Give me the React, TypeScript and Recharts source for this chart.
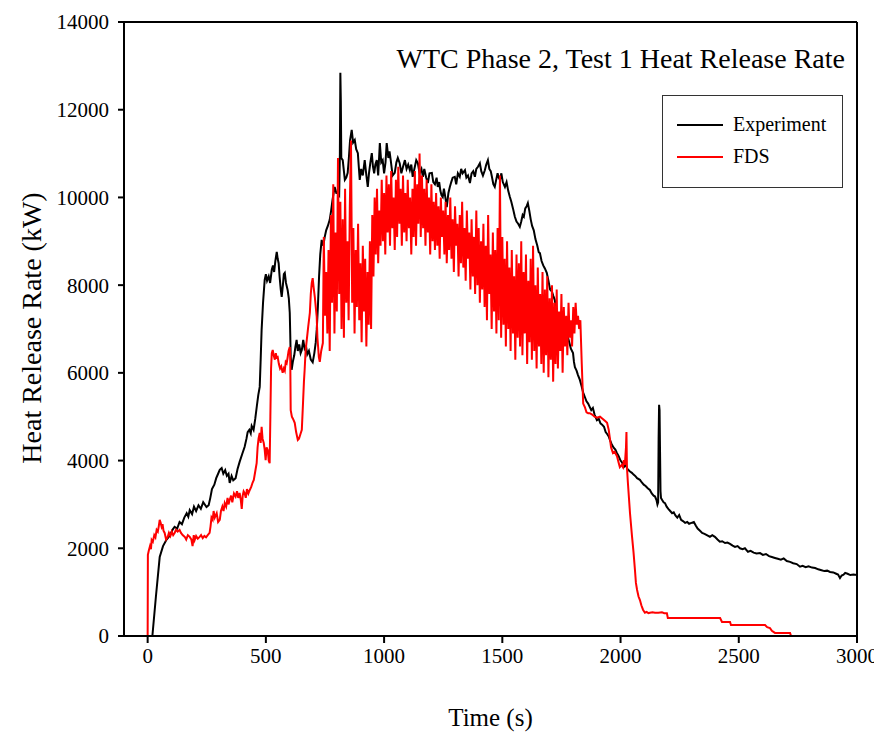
import { CartesianGrid, Line, LineChart, ReferenceLine, XAxis, YAxis } from 'recharts'

// [time (s), heat release rate (kW)]
const experimentPoints: [number, number][] = [
  [0, 0], [20, 0], [35, 900], [51, 1800], [65, 2050], [80, 2200], [95, 2300], [105, 2420], [114, 2490], [125, 2450],
  [135, 2600], [145, 2550], [155, 2700], [165, 2800], [172, 2720], [178, 2870], [188, 2780], [196, 2950], [205, 2850], [215, 2980],
  [225, 2900], [235, 3050], [249, 2940], [258, 2980], [265, 3150], [272, 3350], [282, 3450], [290, 3600], [298, 3700], [305, 3790],
  [313, 3830], [320, 3700], [328, 3780], [335, 3650], [342, 3700], [347, 3490], [355, 3650], [362, 3550], [372, 3600], [380, 3800],
  [389, 3970], [400, 4150], [410, 4310], [418, 4500], [423, 4650], [430, 4700], [436, 4620], [440, 4790], [448, 4700], [455, 4950],
  [462, 5250], [468, 5500], [474, 5680], [478, 6300], [482, 6980], [488, 7600], [495, 8120], [500, 8250], [505, 8100], [512, 8200],
  [518, 8050], [525, 8350], [530, 8450], [535, 8300], [540, 8550], [546, 8760], [550, 8600], [554, 8500], [558, 8200], [563, 7900],
  [567, 7730], [572, 8000], [576, 8250], [580, 8280], [585, 8050], [592, 7890], [597, 7700], [601, 7370], [603, 6900], [605, 6360],
  [609, 6070], [614, 6250], [620, 6400], [625, 6600], [630, 6750], [635, 6500], [641, 6650], [647, 6450], [652, 6520], [658, 6750],
  [664, 6550], [670, 6600], [675, 6420], [682, 6500], [690, 6300], [698, 6240], [705, 6450], [711, 6700], [715, 6980], [720, 7500],
  [725, 8200], [730, 8700], [736, 9030], [743, 8900], [749, 9100], [755, 9250], [762, 9350], [770, 9490], [776, 9700], [782, 9950],
  [791, 10240], [798, 10100], [804, 10100], [810, 10050], [813, 11000], [815, 12840], [817, 12200], [819, 10900], [825, 10850], [830, 10600],
  [834, 10400], [840, 10450], [846, 10560], [851, 10900], [856, 11300], [863, 11540], [869, 11250], [876, 11310], [882, 11100], [889, 11010],
  [893, 10700], [897, 10400], [903, 10650], [910, 10500], [918, 10850], [925, 10500], [931, 10240], [936, 10550], [942, 10800], [948, 11010],
  [953, 10700], [958, 10550], [963, 10750], [969, 10850], [975, 10500], [982, 11240], [988, 10800], [994, 10850], [1000, 10550], [1006, 10800],
  [1011, 11240], [1018, 10900], [1023, 11050], [1028, 10850], [1036, 10500], [1045, 10560], [1052, 10800], [1058, 10900], [1066, 10780], [1073, 10550],
  [1080, 10700], [1088, 10850], [1095, 10650], [1102, 10750], [1109, 10620], [1115, 10750], [1121, 10470], [1128, 10650], [1136, 10850], [1143, 10780],
  [1150, 10550], [1158, 10650], [1164, 10470], [1170, 10650], [1178, 10450], [1185, 10330], [1192, 10550], [1202, 10560], [1208, 10350], [1215, 10300],
  [1222, 10450], [1227, 10240], [1233, 10350], [1238, 10150], [1243, 10050], [1248, 10010], [1253, 10200], [1259, 10000], [1265, 9780], [1272, 10100],
  [1278, 10240], [1284, 10350], [1290, 10450], [1299, 10470], [1305, 10300], [1312, 10550], [1320, 10470], [1326, 10650], [1332, 10550], [1342, 10620],
  [1348, 10450], [1355, 10500], [1363, 10330], [1370, 10550], [1377, 10600], [1384, 10470], [1390, 10650], [1397, 10700], [1405, 10780], [1411, 10600],
  [1418, 10500], [1426, 10620], [1432, 10750], [1439, 10850], [1445, 10650], [1451, 10600], [1456, 10470], [1462, 10300], [1468, 10240], [1474, 10400],
  [1480, 10550], [1485, 10450], [1490, 10400], [1496, 10550], [1502, 10350], [1511, 10240], [1518, 10350], [1525, 10150], [1532, 10010], [1538, 9900],
  [1545, 9750], [1553, 9560], [1560, 9450], [1567, 9400], [1574, 9330], [1580, 9450], [1586, 9600], [1591, 9560], [1597, 9750], [1603, 9800],
  [1608, 9870], [1614, 9700], [1620, 9500], [1626, 9350], [1633, 9250], [1640, 9050], [1648, 8900], [1654, 8750], [1659, 8730], [1666, 8550],
  [1673, 8450], [1680, 8380], [1688, 8280], [1695, 8100], [1702, 7900], [1710, 7850], [1716, 7750], [1722, 7660], [1726, 7500], [1731, 7370],
  [1738, 7250], [1745, 7100], [1752, 7050], [1760, 6950], [1768, 6900], [1777, 6820], [1783, 6700], [1790, 6550], [1799, 6450], [1803, 6250],
  [1807, 6130], [1814, 6050], [1820, 5950], [1828, 5840], [1835, 5700], [1842, 5550], [1849, 5450], [1856, 5350], [1863, 5300], [1870, 5220],
  [1876, 5150], [1883, 5200], [1890, 5050], [1900, 4920], [1908, 4950], [1915, 4850], [1922, 4820], [1930, 4770], [1937, 4650], [1944, 4600],
  [1950, 4550], [1955, 4470], [1962, 4380], [1970, 4300], [1978, 4250], [1985, 4170], [1992, 4100], [2000, 4000], [2007, 3950], [2014, 3850],
  [2022, 3900], [2030, 3800], [2040, 3750], [2048, 3720], [2055, 3680], [2062, 3650], [2070, 3600], [2082, 3560], [2090, 3500], [2098, 3450],
  [2106, 3420], [2115, 3370], [2124, 3330], [2132, 3250], [2140, 3200], [2146, 3180], [2152, 3100], [2156, 3000], [2159, 3050], [2161, 4500],
  [2163, 5270], [2165, 5150], [2167, 4200], [2169, 3300], [2171, 3150], [2176, 3100], [2182, 3050], [2188, 3030], [2195, 2950], [2202, 2900],
  [2210, 2850], [2218, 2800], [2225, 2820], [2232, 2750], [2240, 2700], [2248, 2760], [2256, 2650], [2264, 2620], [2273, 2580], [2282, 2600],
  [2290, 2560], [2300, 2580], [2310, 2600], [2318, 2520], [2326, 2450], [2336, 2400], [2345, 2350], [2355, 2330], [2365, 2300], [2378, 2260],
  [2388, 2300], [2399, 2260], [2410, 2200], [2420, 2150], [2430, 2160], [2442, 2120], [2452, 2130], [2463, 2100], [2474, 2060], [2484, 2030],
  [2495, 2050], [2505, 2000], [2516, 1980], [2526, 2000], [2539, 1920], [2550, 1940], [2563, 1900], [2575, 1880], [2590, 1890], [2602, 1850],
  [2615, 1870], [2628, 1820], [2640, 1800], [2653, 1780], [2665, 1760], [2678, 1740], [2690, 1770], [2703, 1710], [2717, 1690], [2730, 1660],
  [2745, 1640], [2759, 1580], [2770, 1600], [2783, 1570], [2795, 1590], [2810, 1560], [2823, 1550], [2836, 1520], [2850, 1500], [2862, 1480],
  [2874, 1490], [2886, 1460], [2900, 1450], [2912, 1420], [2920, 1400], [2928, 1320], [2935, 1380], [2943, 1400], [2950, 1440], [2960, 1420],
  [2972, 1390], [2985, 1400], [3000, 1390],
]

const fdsPoints: [number, number][] = [
  [0, 0], [1, 1850], [5, 1950], [10, 2050], [14, 1980], [17, 2190], [22, 2150], [28, 2300], [33, 2250], [38, 2420],
  [43, 2380], [47, 2500], [51, 2650], [55, 2580], [59, 2490], [63, 2550], [67, 2400], [72, 2350], [78, 2200], [85, 2260],
  [90, 2350], [96, 2280], [102, 2380], [108, 2300], [114, 2350], [120, 2420], [127, 2380], [135, 2420], [141, 2350], [148, 2300],
  [157, 2260], [163, 2200], [170, 2300], [178, 2260], [185, 2200], [190, 2050], [195, 2300], [199, 2190], [205, 2280], [212, 2220],
  [220, 2260], [226, 2300], [233, 2230], [240, 2280], [247, 2250], [254, 2300], [262, 2350], [266, 2500], [270, 2700], [275, 2650],
  [279, 2850], [284, 2700], [292, 2800], [298, 2600], [305, 2650], [310, 2850], [316, 2950], [321, 2850], [326, 3030], [332, 2950],
  [338, 3150], [342, 3000], [347, 3100], [353, 3200], [358, 3050], [365, 3250], [372, 3180], [378, 3300], [383, 3150], [389, 3260],
  [394, 3100], [398, 2900], [402, 3200], [406, 3300], [410, 3260], [415, 3150], [420, 3350], [426, 3250], [432, 3330], [438, 3400],
  [444, 3500], [449, 3560], [455, 3750], [461, 3940], [465, 4300], [469, 4500], [474, 4630], [478, 4400], [482, 4770], [486, 4500],
  [491, 4400], [495, 4250], [499, 4010], [503, 4300], [508, 4240], [512, 4000], [516, 3940], [519, 5000], [522, 6100], [525, 6450],
  [529, 6520], [533, 6400], [538, 6300], [542, 6450], [546, 6350], [550, 6360], [555, 6200], [560, 6100], [565, 6150], [571, 6000],
  [576, 6100], [580, 6050], [584, 6250], [588, 6220], [592, 6350], [596, 6500], [601, 6590], [603, 6400], [605, 5150], [610, 5000],
  [615, 4950], [622, 4860], [628, 4650], [635, 4470], [640, 4500], [646, 4600], [652, 4700], [657, 5300], [661, 5800], [664, 6070],
  [668, 6500], [673, 6750], [679, 7050], [686, 7370], [690, 7800], [694, 8050], [698, 8160], [702, 7950], [707, 7730], [711, 7500],
  [715, 7280], [718, 6800], [721, 6590], [724, 6360], [728, 6250], [734, 6500], [741, 6680],
  [745, 9100], [750, 7300], [755, 8300], [760, 6900], [765, 8800],
  [770, 6500], [775, 9600], [780, 7600], [785, 10300], [790, 6900], [795, 9200], [800, 7400], [805, 10900], [810, 7800], [815, 9900],
  [820, 7000], [825, 9500], [830, 6800], [835, 10200], [840, 7600], [845, 9000], [850, 7200], [855, 9800], [860, 11300], [865, 7600],
  [870, 9300], [875, 6900], [880, 8800], [885, 7500], [890, 9400], [895, 7200], [900, 8500], [905, 6700], [910, 8900], [915, 7400],
  [920, 8600], [925, 6600], [930, 8300], [935, 7100], [940, 9000], [945, 7000], [950, 9600], [955, 8200], [960, 10000], [965, 8700],
  [970, 10200], [975, 8500], [980, 9700], [985, 8900], [990, 10400], [995, 9000], [1000, 10100], [1005, 8700], [1010, 10500], [1015, 9200],
  [1020, 10300], [1025, 8900], [1030, 10600], [1035, 9300], [1040, 10000], [1045, 8800], [1050, 10400], [1055, 9100], [1060, 10700], [1065, 9400],
  [1070, 10200], [1075, 8900], [1080, 10500], [1085, 9200], [1090, 10100], [1095, 9000], [1100, 10400], [1105, 9300], [1110, 10000], [1115, 8700],
  [1120, 10200], [1125, 9100], [1130, 10600], [1135, 8900], [1140, 10300], [1145, 9400], [1150, 11000], [1155, 9100], [1160, 10500], [1165, 9300],
  [1170, 10200], [1175, 8900], [1180, 10400], [1185, 9200], [1190, 10000], [1195, 8700], [1200, 10300], [1205, 9000], [1210, 9900], [1215, 8800],
  [1220, 10100], [1225, 8900], [1230, 9800], [1235, 8600], [1240, 10000], [1245, 9100], [1250, 9700], [1255, 8700], [1260, 9900], [1265, 8500],
  [1270, 9600], [1275, 8800], [1280, 10000], [1285, 8600], [1290, 9500], [1295, 8300], [1300, 9800], [1305, 8900], [1310, 9400], [1315, 8200],
  [1320, 9600], [1325, 8500], [1330, 9900], [1335, 8400], [1340, 9300], [1345, 8100], [1350, 9700], [1355, 8600], [1360, 9200], [1365, 7900],
  [1370, 9500], [1375, 8200], [1380, 9100], [1385, 7800], [1390, 9700], [1395, 8000], [1400, 9300], [1405, 7600], [1410, 9000], [1415, 7900],
  [1420, 9400], [1425, 7500], [1430, 8900], [1435, 7200], [1440, 9600], [1445, 7800], [1450, 8700], [1455, 7000], [1460, 9200], [1465, 7400],
  [1470, 8800], [1475, 6900], [1480, 9300], [1485, 7200], [1490, 10500], [1495, 6800], [1500, 9100], [1505, 7100], [1510, 8600], [1515, 6600],
  [1520, 9000], [1525, 7000], [1530, 8400], [1535, 6500], [1540, 8800], [1545, 6900], [1550, 8200], [1555, 6300], [1560, 8700], [1565, 6800],
  [1570, 8500], [1575, 6600], [1580, 9000], [1585, 6400], [1590, 8300], [1595, 6900], [1600, 8700], [1605, 6200], [1610, 8100], [1615, 6700],
  [1620, 8600], [1625, 6300], [1630, 8900], [1635, 6500], [1640, 8000], [1645, 6100], [1650, 8400], [1655, 6600], [1660, 7800], [1665, 6200],
  [1670, 8300], [1675, 6000], [1680, 7900], [1685, 6400], [1690, 8200], [1695, 5900], [1700, 7700], [1705, 6300], [1710, 8000], [1715, 5800],
  [1720, 7600], [1725, 6200], [1730, 7900], [1735, 6100], [1740, 7400], [1745, 6500], [1750, 7800], [1755, 6000], [1760, 7500], [1765, 6600],
  [1770, 7300], [1775, 6400], [1780, 7600], [1785, 6800], [1790, 7200], [1795, 6600], [1800, 7500], [1805, 6900], [1810, 7600], [1815, 7100],
  [1820, 7300], [1825, 7000], [1830, 7200], [1836, 6200], [1842, 5300], [1849, 5220], [1856, 5100], [1863, 5080], [1870, 5080], [1880, 5050],
  [1890, 5000], [1900, 4980], [1913, 5000], [1925, 4950], [1935, 4900], [1943, 4860], [1950, 4700], [1955, 4500], [1960, 4300], [1968, 4170],
  [1975, 4200], [1985, 4100], [1992, 3950], [1997, 3850], [2005, 3900], [2010, 3850], [2014, 4010], [2018, 3900], [2023, 4300], [2025, 4650],
  [2027, 3850], [2031, 3500], [2040, 2800], [2048, 2300], [2055, 1900], [2061, 1500], [2065, 1210], [2070, 1050], [2076, 900], [2082, 820],
  [2088, 700], [2095, 600], [2103, 530], [2110, 550], [2118, 520], [2124, 530], [2135, 540], [2146, 530], [2160, 530], [2175, 540],
  [2185, 520], [2196, 520], [2200, 410], [2421, 410], [2429, 320], [2463, 320], [2467, 250], [2611, 250], [2620, 200], [2632, 180],
  [2640, 120], [2653, 70], [2717, 70], [2721, 0], [3000, 0],
]

const xTicks = [0, 500, 1000, 1500, 2000, 2500, 3000]
const yTicks = [0, 2000, 4000, 6000, 8000, 10000, 12000, 14000]

const experimentData = experimentPoints.map(([t, v]) => ({ t, v }))
const fdsData = fdsPoints.map(([t, v]) => ({ t, v }))

const serif = '"Liberation Serif", "Times New Roman", serif'
const tickStyle = { fill: '#000', fontSize: 21, fontFamily: serif }

const App = () => {
  return (
    <div style={{ position: 'relative', width: 874, height: 732, background: '#fff', fontFamily: serif }}>
      <LineChart width={874} height={732} margin={{ top: 14, right: 25, bottom: 44, left: 56 }}>
        <CartesianGrid stroke="none" />
        <XAxis
          type="number"
          dataKey="t"
          domain={[-100, 3000]}
          ticks={xTicks}
          allowDataOverflow
          height={60}
          tick={tickStyle}
          tickSize={7}
          tickMargin={5}
          axisLine={{ stroke: '#000', strokeWidth: 2 }}
          tickLine={{ stroke: '#000', strokeWidth: 2 }}
        />
        <YAxis
          type="number"
          domain={[0, 14000]}
          ticks={yTicks}
          width={60}
          tick={tickStyle}
          tickSize={6}
          tickMargin={9}
          axisLine={{ stroke: '#000', strokeWidth: 2 }}
          tickLine={{ stroke: '#000', strokeWidth: 2 }}
        />
        <ReferenceLine y={14000} stroke="#000" strokeWidth={2} />
        <ReferenceLine x={3000} stroke="#000" strokeWidth={2} />
        <Line
          data={experimentData}
          dataKey="v"
          type="linear"
          stroke="#000"
          strokeWidth={2}
          dot={false}
          isAnimationActive={false}
        />
        <Line
          data={fdsData}
          dataKey="v"
          type="linear"
          stroke="#ff0000"
          strokeWidth={2}
          dot={false}
          isAnimationActive={false}
        />
      </LineChart>

      <div
        style={{ position: 'absolute', right: 37, top: 37, fontSize: 28, lineHeight: 1, color: '#000', whiteSpace: 'nowrap' }}
      >
        WTC Phase 2, Test 1 Heat Release Rate
      </div>

      <div
        style={{
          position: 'absolute', left: 654, top: 87, width: 181, height: 93, boxSizing: 'border-box',
          border: '1.5px solid #333', background: '#fff', fontSize: 20, color: '#000',
        }}
      >
        <div style={{ position: 'absolute', left: 14, top: 28, width: 46, height: 2, background: '#000' }} />
        <div style={{ position: 'absolute', left: 70, top: 18, lineHeight: 1, whiteSpace: 'nowrap' }}>Experiment</div>
        <div style={{ position: 'absolute', left: 14, top: 60, width: 46, height: 2, background: '#ff0000' }} />
        <div style={{ position: 'absolute', left: 70, top: 50, lineHeight: 1, whiteSpace: 'nowrap' }}>FDS</div>
      </div>

      <div
        style={{ position: 'absolute', left: 0, width: 965, top: 697, textAlign: 'center', fontSize: 25, lineHeight: 1, color: '#000' }}
      >
        Time (s)
      </div>

      <div
        style={{
          position: 'absolute', left: 24, top: 320, width: 0, height: 0, color: '#000', fontSize: 28,
        }}
      >
        <div
          style={{
            position: 'absolute', left: 0, top: 0, whiteSpace: 'nowrap', lineHeight: 1,
            transform: 'translate(-50%, -50%) rotate(-90deg)',
          }}
        >
          Heat Release Rate (kW)
        </div>
      </div>
    </div>
  )
}

export default App
